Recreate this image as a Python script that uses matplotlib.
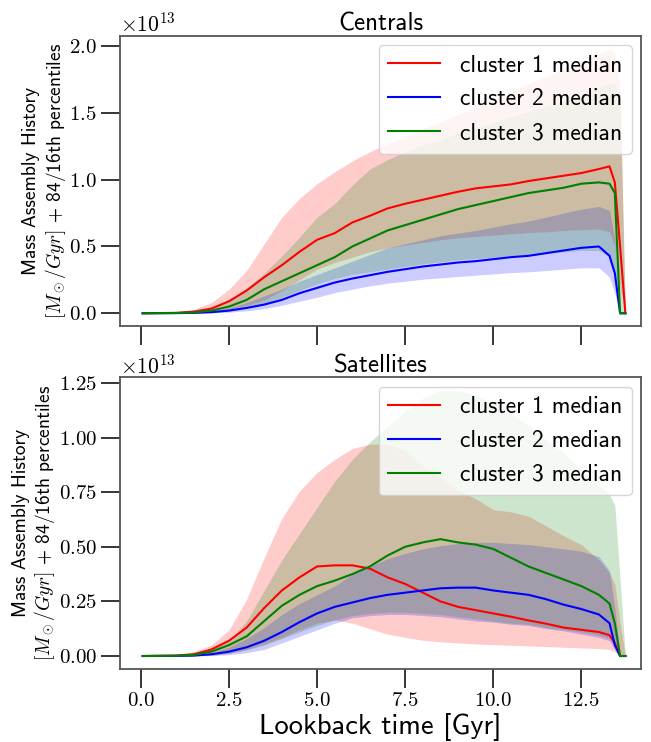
import numpy as np
import matplotlib
matplotlib.use("Agg")
import matplotlib.pyplot as plt
from matplotlib.ticker import MultipleLocator

plt.rcParams["font.family"] = "cmss10"
plt.rcParams["mathtext.fontset"] = "cm"
plt.rcParams["axes.unicode_minus"] = False
plt.rcParams["axes.formatter.use_mathtext"] = True

# --- lookback time grid [Gyr] ---
t = [0.05, 1, 1.5, 2, 2.5, 3, 3.5, 4, 4.5, 5, 5.5, 6, 6.5, 7, 7.5, 8, 8.5, 9,
     9.5, 10, 10.5, 11, 11.5, 12, 12.5, 13, 13.3, 13.45, 13.6, 13.75]

# --- Centrals (units of 1e13 Msun/Gyr) ---
cen_c1_med = [0, 0.003, 0.012, 0.035, 0.09, 0.17, 0.27, 0.36, 0.46, 0.55, 0.60, 0.68, 0.73, 0.785,
              0.82, 0.85, 0.88, 0.91, 0.935, 0.95, 0.965, 0.99, 1.01, 1.03, 1.05, 1.08, 1.10, 0.98, 0.5, 0]
cen_c1_hi = [0, 0.01, 0.03, 0.08, 0.18, 0.32, 0.52, 0.72, 0.86, 0.97, 1.06, 1.14, 1.21, 1.27,
             1.32, 1.38, 1.43, 1.49, 1.54, 1.60, 1.66, 1.72, 1.77, 1.83, 1.88, 1.94, 1.98, 1.95, 1.7, 0]
cen_c1_lo = [0, 0.001, 0.004, 0.012, 0.03, 0.06, 0.10, 0.17, 0.25, 0.33, 0.38, 0.42, 0.46, 0.49,
             0.51, 0.53, 0.55, 0.565, 0.575, 0.585, 0.595, 0.605, 0.61, 0.62, 0.625, 0.63, 0.61, 0.5, 0.2, 0]

cen_c2_med = [0, 0.001, 0.003, 0.008, 0.02, 0.04, 0.065, 0.10, 0.15, 0.19, 0.23, 0.26, 0.285, 0.31,
              0.33, 0.35, 0.365, 0.38, 0.39, 0.405, 0.42, 0.43, 0.45, 0.47, 0.49, 0.50, 0.43, 0.3, 0, 0]
cen_c2_hi = [0, 0.002, 0.006, 0.015, 0.04, 0.08, 0.13, 0.18, 0.24, 0.29, 0.34, 0.39, 0.44, 0.49,
             0.52, 0.55, 0.58, 0.60, 0.62, 0.645, 0.67, 0.69, 0.72, 0.75, 0.78, 0.80, 0.77, 0.55, 0, 0]
cen_c2_lo = [0, 0, 0.001, 0.003, 0.008, 0.018, 0.035, 0.06, 0.09, 0.12, 0.155, 0.18, 0.205, 0.225,
             0.24, 0.255, 0.265, 0.275, 0.285, 0.295, 0.305, 0.31, 0.32, 0.33, 0.34, 0.34, 0.27, 0.15, 0, 0]

cen_c3_med = [0, 0.002, 0.006, 0.02, 0.05, 0.10, 0.18, 0.24, 0.30, 0.36, 0.42, 0.50, 0.56, 0.62,
              0.66, 0.70, 0.74, 0.78, 0.81, 0.84, 0.87, 0.90, 0.92, 0.94, 0.97, 0.98, 0.97, 0.90, 0, 0]
cen_c3_hi = [0, 0.005, 0.015, 0.04, 0.10, 0.19, 0.30, 0.43, 0.57, 0.72, 0.82, 0.96, 1.08, 1.15,
             1.21, 1.26, 1.30, 1.35, 1.39, 1.43, 1.47, 1.51, 1.55, 1.59, 1.64, 1.69, 1.72, 1.72, 1.6, 0]
cen_c3_lo = [0, 0, 0.002, 0.006, 0.015, 0.035, 0.07, 0.12, 0.17, 0.22, 0.26, 0.29, 0.31, 0.33,
             0.35, 0.37, 0.385, 0.40, 0.41, 0.42, 0.43, 0.44, 0.45, 0.46, 0.47, 0.47, 0.42, 0.3, 0, 0]

# --- Satellites (units of 1e13 Msun/Gyr) ---
sat_c1_med = [0, 0.002, 0.008, 0.03, 0.07, 0.13, 0.22, 0.30, 0.36, 0.41, 0.415, 0.415, 0.40, 0.36,
              0.33, 0.29, 0.25, 0.225, 0.21, 0.195, 0.18, 0.163, 0.148, 0.13, 0.12, 0.11, 0.095, 0.06, 0, 0]
sat_c1_hi = [0, 0.005, 0.02, 0.05, 0.12, 0.26, 0.45, 0.63, 0.755, 0.84, 0.90, 0.95, 0.97, 0.97,
             0.94, 0.87, 0.82, 0.76, 0.72, 0.67, 0.66, 0.64, 0.595, 0.55, 0.51, 0.44, 0.38, 0.33, 0.15, 0]
sat_c1_lo = [0, 0, 0.001, 0.004, 0.012, 0.03, 0.055, 0.085, 0.12, 0.15, 0.165, 0.15, 0.125, 0.10,
             0.085, 0.072, 0.065, 0.06, 0.055, 0.052, 0.049, 0.046, 0.043, 0.04, 0.037, 0.034, 0.03, 0.02, 0, 0]

sat_c2_med = [0, 0.0005, 0.002, 0.008, 0.02, 0.04, 0.07, 0.11, 0.155, 0.195, 0.225, 0.245, 0.265, 0.28,
              0.29, 0.30, 0.31, 0.313, 0.313, 0.30, 0.29, 0.28, 0.26, 0.235, 0.215, 0.19, 0.15, 0.05, 0, 0]
sat_c2_hi = [0, 0.001, 0.004, 0.015, 0.04, 0.08, 0.13, 0.19, 0.24, 0.28, 0.32, 0.375, 0.41, 0.445,
             0.47, 0.49, 0.505, 0.515, 0.52, 0.52, 0.515, 0.51, 0.50, 0.49, 0.48, 0.455, 0.39, 0.22, 0, 0]
sat_c2_lo = [0, 0, 0.0005, 0.002, 0.006, 0.015, 0.03, 0.06, 0.09, 0.12, 0.15, 0.175, 0.185, 0.19,
             0.19, 0.185, 0.18, 0.17, 0.16, 0.155, 0.145, 0.14, 0.125, 0.115, 0.10, 0.085, 0.07, 0.03, 0, 0]

sat_c3_med = [0, 0.001, 0.005, 0.02, 0.05, 0.09, 0.16, 0.23, 0.28, 0.32, 0.345, 0.375, 0.41, 0.46,
              0.50, 0.52, 0.535, 0.52, 0.51, 0.49, 0.45, 0.41, 0.38, 0.35, 0.32, 0.28, 0.24, 0.15, 0, 0]
sat_c3_hi = [0, 0.002, 0.01, 0.03, 0.07, 0.16, 0.30, 0.44, 0.56, 0.68, 0.80, 0.90, 0.98, 1.05,
             1.12, 1.18, 1.215, 1.215, 1.195, 1.16, 1.11, 1.055, 0.99, 0.93, 0.85, 0.78, 0.74, 0.69, 0.35, 0]
sat_c3_lo = [0, 0, 0.001, 0.004, 0.012, 0.028, 0.05, 0.08, 0.11, 0.14, 0.165, 0.185, 0.195, 0.20,
             0.20, 0.195, 0.19, 0.18, 0.17, 0.16, 0.15, 0.145, 0.13, 0.12, 0.11, 0.095, 0.08, 0.04, 0, 0]

labels = ["cluster 1 median", "cluster 2 median", "cluster 3 median"]
colors = ["red", "blue", "green"]

panels = [
    ("Centrals", [(cen_c1_med, cen_c1_lo, cen_c1_hi),
                  (cen_c2_med, cen_c2_lo, cen_c2_hi),
                  (cen_c3_med, cen_c3_lo, cen_c3_hi)], 0.5),
    ("Satellites", [(sat_c1_med, sat_c1_lo, sat_c1_hi),
                    (sat_c2_med, sat_c2_lo, sat_c2_hi),
                    (sat_c3_med, sat_c3_lo, sat_c3_hi)], 0.25),
]

fig = plt.figure(figsize=(6.51, 7.42), dpi=100)
ax_top = fig.add_axes([0.184, 0.560, 0.801, 0.392])
ax_bot = fig.add_axes([0.184, 0.098, 0.801, 0.3935], sharex=ax_top)

tt = np.array(t)
for ax, (title, series, ystep) in zip([ax_top, ax_bot], panels):
    for (med, lo, hi), c, lab in zip(series, colors, labels):
        ax.plot(tt, np.array(med) * 1e13, color=c, lw=1.5, label=lab)
        ax.fill_between(tt, np.array(lo) * 1e13, np.array(hi) * 1e13,
                        color=c, alpha=0.2, lw=0)
    ax.set_title(title, fontsize=18, pad=3)
    ax.set_ylabel("Mass Assembly History\n$[M_\\odot/Gyr]$ + 84/16th percentiles",
                  fontsize=14, linespacing=1.15, labelpad=1)
    ax.yaxis.set_major_locator(MultipleLocator(ystep * 1e13))
    ax.tick_params(direction="out", length=14, width=1.1, labelsize=15,
                   labelfontfamily="cmr10", pad=2.5)
    off = ax.yaxis.get_offset_text()
    off.set_fontsize(15.5)
    off.set_family("cmr10")
    for sp in ax.spines.values():
        sp.set_color("#555555")
        sp.set_linewidth(1.3)
    ax.legend(loc="upper right", fontsize=17, handlelength=2.2, handletextpad=0.85,
              labelspacing=0.5, framealpha=0.8, borderaxespad=0.4)

ax_top.set_xlim(-0.6, 14.2)
ax_top.xaxis.set_major_locator(MultipleLocator(2.5))
plt.setp(ax_top.get_xticklabels(), visible=False)
ax_bot.set_xlabel("Lookback time [Gyr]", fontsize=20.5, labelpad=2)

fig.savefig("out.png", dpi=100)
